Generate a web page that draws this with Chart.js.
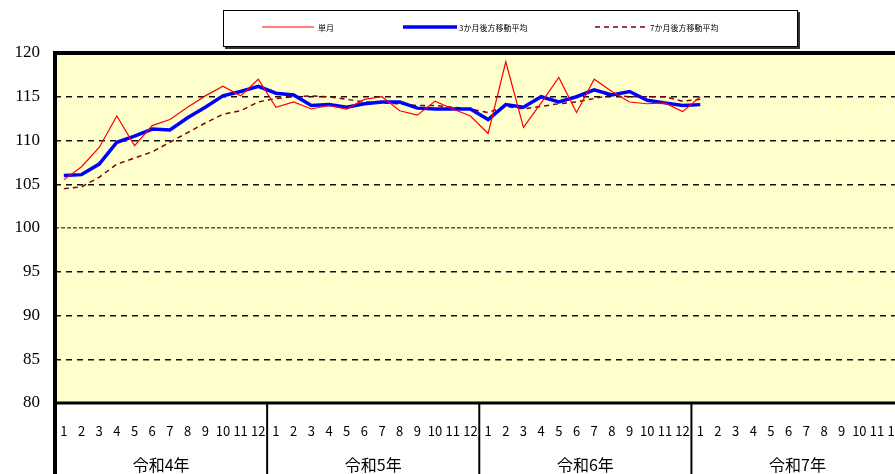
<!DOCTYPE html>
<html>
<head>
<meta charset="utf-8">
<script src="https://cdn.jsdelivr.net/npm/chart.js@4"></script>
<style>
  html, body { margin: 0; padding: 0; background: #fff; overflow: hidden; }
  #wrap { width: 895px; height: 474px; overflow: hidden; }
</style>
</head>
<body>
<div id="wrap"><canvas id="chart" width="922" height="474"></canvas></div>
<script>
const years = ["令和4年", "令和5年", "令和6年", "令和7年"];
const months = [1, 2, 3, 4, 5, 6, 7, 8, 9, 10, 11, 12];
const yTicks = [80, 85, 90, 95, 100, 105, 110, 115, 120];

// 単月
const single = [
  105.5, 107.0, 109.2, 112.8, 109.4, 111.7, 112.4, 113.8, 115.1, 116.2, 115.1, 117.0,
  113.8, 114.4, 113.6, 114.0, 113.6, 114.7, 115.0, 113.4, 112.9, 114.5, 113.6, 112.8,
  110.8, 119.0, 111.5, 114.3, 117.2, 113.2, 117.0, 115.6, 114.4, 114.2, 114.3, 113.3,
  115.0,
];
// 3か月後方移動平均
const avg3 = [
  106.0, 106.1, 107.3, 109.8, 110.5, 111.3, 111.2, 112.6, 113.8, 115.1, 115.6, 116.2,
  115.4, 115.2, 114.0, 114.1, 113.8, 114.2, 114.4, 114.4, 113.7, 113.6, 113.6, 113.6,
  112.4, 114.1, 113.8, 115.0, 114.4, 115.0, 115.8, 115.2, 115.6, 114.6, 114.3, 114.0,
  114.1,
];
// 7か月後方移動平均
const avg7 = [
  104.5, 104.7, 105.8, 107.3, 108.0, 108.7, 109.8, 110.9, 112.0, 113.0, 113.4, 114.4,
  114.8, 115.0, 115.1, 115.0, 114.7, 114.4, 114.3, 114.2, 114.0, 114.0, 113.8, 113.6,
  113.2, 113.9, 113.6, 113.9, 114.2, 114.4, 114.8, 115.2, 115.0, 115.0, 115.0, 114.5,
  114.7,
];

const labels = [];
years.forEach(() => months.forEach((m) => labels.push(String(m))));

const jpFont = "'Noto Sans CJK JP', 'Noto Sans', sans-serif";

const framePlugin = {
  id: "frame",
  beforeDraw(chart) {
    const { ctx, chartArea: a } = chart;
    ctx.save();
    ctx.fillStyle = "#FFFFCC";
    ctx.fillRect(a.left, a.top, a.right - a.left, a.bottom - a.top);
    ctx.restore();
  },
  afterDraw(chart) {
    const { ctx, chartArea: a } = chart;
    const x = chart.scales.x;
    const H = chart.height;
    ctx.save();
    ctx.strokeStyle = "#000";
    // plot border
    ctx.lineWidth = 4;
    ctx.beginPath();
    ctx.moveTo(a.right, a.top);
    ctx.lineTo(a.left, a.top);
    ctx.lineTo(a.left, H);
    ctx.stroke();
    ctx.lineWidth = 3;
    ctx.beginPath();
    ctx.moveTo(a.left, a.bottom);
    ctx.lineTo(a.right, a.bottom);
    ctx.stroke();
    // year separators and labels
    ctx.lineWidth = 2;
    ctx.fillStyle = "#000";
    ctx.font = "16px " + jpFont;
    ctx.textAlign = "center";
    ctx.textBaseline = "middle";
    years.forEach((y, i) => {
      const first = i * 12;
      const cx = (x.getPixelForTick(first + 5) + x.getPixelForTick(first + 6)) / 2;
      ctx.fillText(y, cx, 465);
      if (i > 0) {
        const sx = (x.getPixelForTick(first - 1) + x.getPixelForTick(first)) / 2;
        ctx.beginPath();
        ctx.moveTo(sx, a.bottom);
        ctx.lineTo(sx, H);
        ctx.stroke();
      }
    });
    // legend box
    ctx.fillStyle = "#fff";
    ctx.fillRect(223, 10, 574, 36);
    ctx.lineWidth = 1;
    ctx.strokeStyle = "#000";
    ctx.strokeRect(223.5, 10.5, 574, 36);
    ctx.lineWidth = 2;
    ctx.strokeStyle = "#333";
    ctx.beginPath();
    ctx.moveTo(225, 48);
    ctx.lineTo(799, 48);
    ctx.lineTo(799, 12);
    ctx.stroke();
    const items = [
      { ds: 0, x0: 262, x1: 314, tx: 318 },
      { ds: 1, x0: 403, x1: 457, tx: 459 },
      { ds: 2, x0: 595, x1: 646, tx: 650 },
    ];
    ctx.font = "8px " + jpFont;
    ctx.textAlign = "left";
    items.forEach((it) => {
      const d = chart.data.datasets[it.ds];
      ctx.strokeStyle = d.borderColor;
      ctx.lineWidth = d.borderWidth;
      ctx.setLineDash(d.borderDash || []);
      ctx.beginPath();
      ctx.moveTo(it.x0, 27);
      ctx.lineTo(it.x1, 27);
      ctx.stroke();
      ctx.setLineDash([]);
      ctx.fillStyle = "#000";
      ctx.fillText(d.label, it.tx, 28);
    });
    ctx.restore();
  },
};

new Chart(document.getElementById("chart"), {
  type: "line",
  data: {
    labels: labels,
    datasets: [
      {
        label: "単月",
        data: single,
        borderColor: "#FF0000",
        borderWidth: 1.2,
        pointRadius: 0,
      },
      {
        label: "3か月後方移動平均",
        data: avg3,
        borderColor: "#0000FF",
        borderWidth: 3.5,
        pointRadius: 0,
      },
      {
        label: "7か月後方移動平均",
        data: avg7,
        borderColor: "#800000",
        borderWidth: 1.5,
        borderDash: [5, 4],
        pointRadius: 0,
      },
    ],
  },
  options: {
    responsive: false,
    animation: false,
    tension: 0,
    layout: { padding: { top: 53, right: 7, left: 0, bottom: 0 } },
    plugins: {
      legend: { display: false },
      tooltip: { enabled: false },
    },
    scales: {
      x: {
        offset: true,
        grid: { display: false, drawTicks: false, offset: true },
        border: { display: false },
        ticks: {
          autoSkip: false,
          maxRotation: 0,
          padding: 20,
          color: "#000",
          font: { family: jpFont, size: 13 },
        },
        afterFit(scale) {
          scale.height = 71;
        },
      },
      y: {
        min: 80,
        max: 120,
        afterBuildTicks(scale) {
          scale.ticks = yTicks.map((v) => ({ value: v }));
        },
        grid: {
          drawTicks: false,
          lineWidth: 1.5,
          color: (c) => {
            const v = c.tick && c.tick.value;
            if (v === 80 || v === 120) return "transparent";
            return v === 100 ? "#555" : "#111";
          },
        },
        border: {
          display: false,
          dash: (c) => (c.tick && c.tick.value === 100 ? [4, 2] : [6, 5]),
        },
        ticks: {
          padding: 15,
          color: "#000",
          font: { family: "'Liberation Serif', serif", size: 17 },
        },
        afterFit(scale) {
          scale.width = 55;
        },
      },
    },
  },
  plugins: [framePlugin],
});
</script>
</body>
</html>
